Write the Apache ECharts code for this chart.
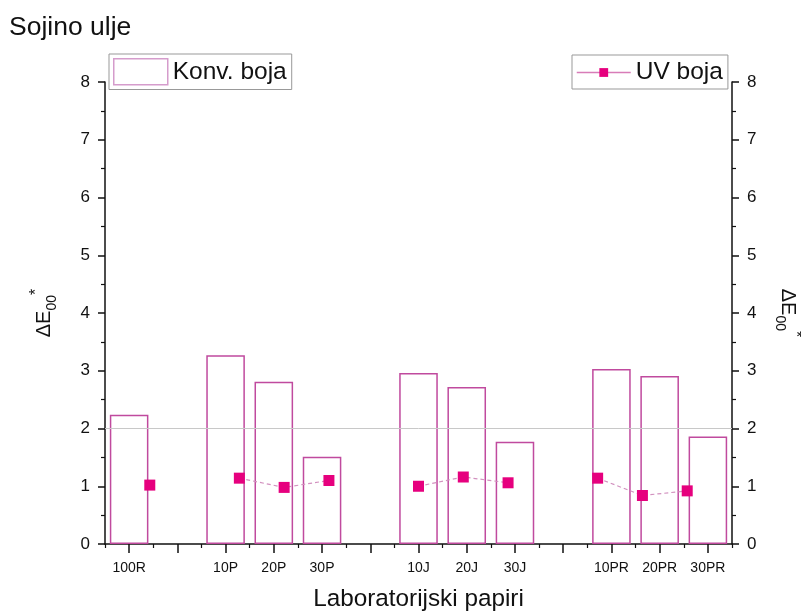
<!DOCTYPE html>
<html>
<head>
<meta charset="utf-8">
<script src="https://cdn.jsdelivr.net/npm/echarts@6/dist/echarts.min.js"></script>
<style>
html,body{margin:0;padding:0;background:#fff;overflow:hidden;width:801px;height:615px;}
#c{width:801px;height:615px;position:absolute;left:0;top:0;}
</style>
</head>
<body>
<div id="c"></div>
<script>
// ---- data ----
const categories = ['100R', '', '10P', '20P', '30P', '', '10J', '20J', '30J', '', '10PR', '20PR', '30PR'];
const konvBoja = [2.24, null, 3.27, 2.81, 1.51, null, 2.96, 2.72, 1.77, null, 3.03, 2.91, 1.86];
const uvBoja   = [1.02, null, 1.14, 0.98, 1.10, null, 1.00, 1.16, 1.06, null, 1.14, 0.84, 0.92];
const yTicks = [0, 1, 2, 3, 4, 5, 6, 7, 8];
const refLine = 2;

const FONT = '"Liberation Sans", Arial, sans-serif';
const barData = konvBoja.map(v => v === null ? '-' : v);
// UV points live on a secondary value axis: category index i sits at i+1 on a 0..14 scale
const uvData = uvBoja.map((v, i) => [i + 1, v === null ? '-' : v]);

const nameRich = {
  a: { fontSize: 20, fontFamily: FONT, color: '#111' },
  sub: { fontSize: 14, fontFamily: FONT, color: '#111', verticalAlign: 'bottom', lineHeight: 30, padding: [8, 0, 0, 0] },
  sup: { fontSize: 16, fontFamily: FONT, color: '#111', verticalAlign: 'top', lineHeight: 30 }
};

const chart = echarts.init(document.getElementById('c'), null, { renderer: 'canvas', width: 801, height: 615 });
chart.setOption({
  animation: false,
  backgroundColor: '#fff',
  textStyle: { fontFamily: FONT },
  title: {
    text: 'Sojino ulje', left: 4, top: 9,
    textStyle: { fontSize: 26.5, fontWeight: 'normal', color: '#111', fontFamily: FONT }
  },
  legend: [
    {
      data: ['Konv. boja'], left: 109, top: 54, orient: 'horizontal',
      icon: 'rect', itemWidth: 54, itemHeight: 26, itemGap: 5,
      padding: [4, 5, 4, 4], borderColor: '#999', borderWidth: 1,
      itemStyle: { borderColor: '#d59ccc', borderWidth: 1.5 },
      textStyle: { fontSize: 24.5, color: '#111', fontFamily: FONT }
    },
    {
      data: ['UV boja'], left: 572, top: 55,
      itemWidth: 54, itemHeight: 11, itemGap: 6,
      padding: [5, 5, 4, 4], borderColor: '#999', borderWidth: 1,
      lineStyle: { type: 'solid', width: 1.5, color: '#d87cb8' },
      textStyle: { fontSize: 24.5, color: '#111', fontFamily: FONT }
    }
  ],
  grid: { left: 105, right: 69, top: 82, bottom: 71, containLabel: false, outerBoundsMode: 'none' },
  xAxis: [
    {
      type: 'category', data: categories, position: 'bottom', boundaryGap: true,
      name: 'Laboratorijski papiri', nameLocation: 'middle', nameGap: 43,
      nameTextStyle: { fontSize: 24.3, color: '#111', fontFamily: FONT },
      axisLine: { show: true, lineStyle: { color: '#111', width: 1.5 } },
      axisTick: { show: true, alignWithLabel: true, length: 9, lineStyle: { color: '#111', width: 1.5 } },
      axisLabel: { show: true, interval: 0, fontSize: 14, color: '#111', margin: 17, fontFamily: FONT },
      splitLine: { show: false }
    },
    {
      type: 'category', data: categories, position: 'bottom', boundaryGap: true,
      axisLine: { show: false },
      axisTick: { show: true, alignWithLabel: false, interval: 0, length: 4, lineStyle: { color: '#111', width: 1.2 } },
      axisLabel: { show: false },
      splitLine: { show: false }
    },
    {
      type: 'value', min: 0, max: 14, show: false
    }
  ],
  yAxis: [
    {
      type: 'value', position: 'left', min: yTicks[0], max: yTicks[yTicks.length - 1], interval: 1,
      name: '{a|ΔE}{sub|00}{sup|*}', nameLocation: 'middle', nameGap: 46, nameRotate: 90,
      nameTextStyle: { rich: nameRich },
      axisLine: { show: true, lineStyle: { color: '#111', width: 1.5 } },
      axisTick: { show: true, length: 7, lineStyle: { color: '#111', width: 1.5 } },
      minorTick: { show: true, splitNumber: 2, length: 4, lineStyle: { color: '#111', width: 1.2 } },
      axisLabel: { fontSize: 17, color: '#111', margin: 15, fontFamily: FONT },
      splitLine: { show: false }
    },
    {
      type: 'value', position: 'right', min: yTicks[0], max: yTicks[yTicks.length - 1], interval: 1,
      name: '{a|ΔE}{sub|00}{sup|*}', nameLocation: 'middle', nameGap: 41, nameRotate: -90,
      nameTextStyle: { rich: nameRich },
      axisLine: { show: true, lineStyle: { color: '#111', width: 1.5 } },
      axisTick: { show: true, length: 7, lineStyle: { color: '#111', width: 1.5 } },
      minorTick: { show: true, splitNumber: 2, length: 4, lineStyle: { color: '#111', width: 1.2 } },
      axisLabel: { fontSize: 17, color: '#111', margin: 15, fontFamily: FONT },
      splitLine: { show: false }
    }
  ],
  series: [
    {
      name: 'Konv. boja', type: 'bar', xAxisIndex: 0, yAxisIndex: 0,
      data: barData, barWidth: '80%',
      itemStyle: { color: 'rgba(255,255,255,0)', borderColor: '#c04a9e', borderWidth: 1.5 },
      markLine: {
        silent: true, symbol: 'none', label: { show: false },
        lineStyle: { color: '#c8c8c8', width: 1, type: 'solid' },
        data: [{ yAxis: refLine }]
      },
      z: 2
    },
    {
      name: 'UV boja', type: 'line', xAxisIndex: 2, yAxisIndex: 1,
      data: uvData, connectNulls: false,
      symbol: 'rect', symbolSize: 11,
      itemStyle: { color: '#e6007e' },
      lineStyle: { color: '#d291bf', width: 1.2, type: [4, 3] },
      z: 3
    }
  ]
});
</script>
</body>
</html>
